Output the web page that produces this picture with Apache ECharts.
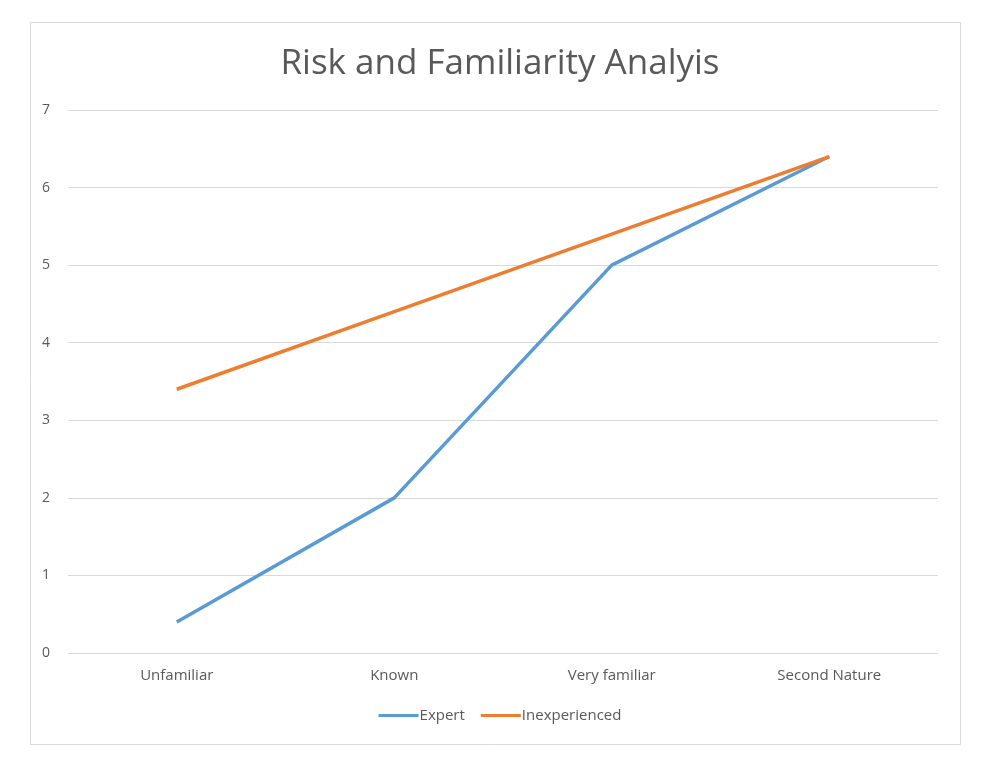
<!DOCTYPE html>
<html><head><meta charset="utf-8">
<script src="https://cdn.jsdelivr.net/npm/echarts@6/dist/echarts.min.js"></script>
<style>html,body{margin:0;padding:0;background:#fff}#c{width:1000px;height:766px}</style>
</head><body><div id="c"></div>
<script>
const categories = ['Unfamiliar', 'Known', 'Very familiar', 'Second Nature'];
const expert = [0.4, 2, 5, 6.4];
const inexperienced = [3.4, 4.4, 5.4, 6.4];
const seriesNames = ['Expert', 'Inexperienced'];

const chart = echarts.init(document.getElementById('c'));
const font = '"Open Sans", "Noto Sans", sans-serif';
chart.setOption({
  backgroundColor: '#fff',
  animation: false,
  graphic: [{type: 'rect', shape: {x: 30.5, y: 22.5, width: 930, height: 722},
    style: {fill: 'none', stroke: '#d9d9d9', lineWidth: 1}, silent: true}],
  title: {text: 'Risk and Familiarity Analyis', left: 'center', top: 42,
    textStyle: {fontFamily: font, fontSize: 35, fontWeight: 'normal', color: '#595959'}},
  legend: {bottom: 38, left: 'center', itemWidth: 40, itemHeight: 3, itemGap: 16,
    icon: 'rect',
    textStyle: {fontFamily: font, fontSize: 15, color: '#595959', padding: [0, 0, 0, -4]},
    data: seriesNames},
  grid: {left: 68, right: 62, top: 110, bottom: 113},
  xAxis: {type: 'category', data: categories, boundaryGap: true,
    axisLine: {lineStyle: {color: '#d9d9d9'}}, axisTick: {show: false},
    axisLabel: {fontFamily: font, fontSize: 15, color: '#595959', margin: 15}},
  yAxis: {type: 'value', min: 0, max: 7, interval: 1,
    axisLine: {show: false}, axisTick: {show: false},
    splitLine: {lineStyle: {color: '#d9d9d9'}},
    axisLabel: {fontFamily: font, fontSize: 14, color: '#595959', margin: 18}},
  series: [
    {name: seriesNames[0], type: 'line', data: expert, symbol: 'none',
      lineStyle: {width: 3.5, color: '#5b9bd5'}, itemStyle: {color: '#5b9bd5'}},
    {name: seriesNames[1], type: 'line', data: inexperienced, symbol: 'none',
      lineStyle: {width: 3.5, color: '#ed7d31'}, itemStyle: {color: '#ed7d31'}}
  ]
});
</script></body></html>
